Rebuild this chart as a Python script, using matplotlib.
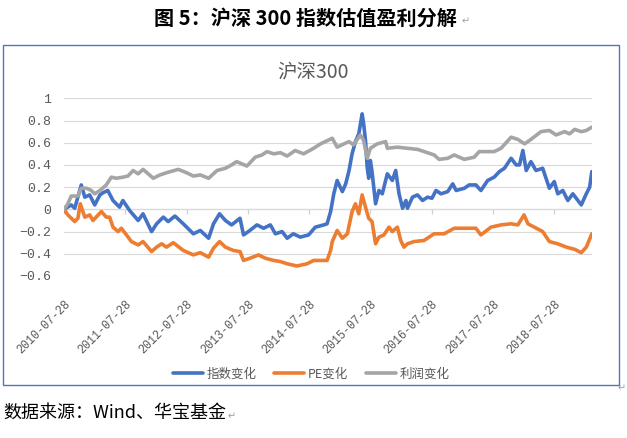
import matplotlib
matplotlib.use("Agg")
import matplotlib.pyplot as plt
import pandas as pd
from matplotlib.patches import Rectangle

# ---------------- data ----------------
idx_dates = ["2010-07-28", "2010-09-09", "2010-09-30", "2010-11-08", "2010-11-29", "2010-12-28",
             "2011-01-27", "2011-02-27", "2011-03-18", "2011-04-15", "2011-05-16", "2011-06-24",
             "2011-07-14", "2011-08-23", "2011-10-13", "2011-11-11", "2012-01-01", "2012-01-31",
             "2012-03-11", "2012-04-09", "2012-05-19", "2012-07-08", "2012-09-06", "2012-10-17",
             "2012-12-06", "2013-01-04", "2013-02-09", "2013-03-16", "2013-04-22", "2013-06-11",
             "2013-07-02", "2013-07-31", "2013-09-20", "2013-10-30", "2013-12-09", "2014-01-08",
             "2014-02-17", "2014-03-19", "2014-04-25", "2014-06-05", "2014-07-25", "2014-09-03",
             "2014-10-23", "2014-11-12", "2014-12-03", "2014-12-22", "2015-01-11", "2015-02-11",
             "2015-03-03", "2015-03-23", "2015-04-10", "2015-04-30", "2015-05-20", "2015-06-09",
             "2015-06-18", "2015-06-29", "2015-07-09", "2015-07-18", "2015-07-28", "2015-08-07",
             "2015-08-28", "2015-09-17", "2015-10-07", "2015-11-06", "2015-12-06", "2015-12-26",
             "2016-01-15", "2016-02-05", "2016-02-25", "2016-03-05", "2016-04-04", "2016-05-04",
             "2016-06-03", "2016-07-03", "2016-07-29", "2016-08-22", "2016-09-21", "2016-10-31",
             "2016-11-30", "2016-12-20", "2017-02-07", "2017-03-08", "2017-04-17", "2017-05-17",
             "2017-06-26", "2017-08-04", "2017-09-04", "2017-10-04", "2017-11-13", "2017-12-13",
             "2018-01-02", "2018-01-22", "2018-02-11", "2018-03-11", "2018-04-10", "2018-05-20",
             "2018-06-29", "2018-07-28", "2018-08-18", "2018-09-17", "2018-10-17", "2018-11-16",
             "2018-12-16", "2019-01-05", "2019-02-04", "2019-02-24", "2019-03-09"]
idx_vals = [0.00, 0.04, 0.01, 0.22, 0.11, 0.13,
            0.04, 0.13, 0.15, 0.17, 0.08, 0.02,
            0.08, -0.01, -0.10, -0.04, -0.20, -0.13,
            -0.07, -0.11, -0.06, -0.13, -0.22, -0.19,
            -0.26, -0.13, -0.04, -0.10, -0.14, -0.08,
            -0.23, -0.20, -0.14, -0.17, -0.14, -0.22,
            -0.20, -0.26, -0.22, -0.25, -0.23, -0.16,
            -0.14, -0.13, -0.02, 0.14, 0.26, 0.16,
            0.23, 0.35, 0.50, 0.61, 0.68, 0.86,
            0.77, 0.62, 0.38, 0.28, 0.44, 0.34,
            0.05, 0.17, 0.14, 0.32, 0.26, 0.35,
            0.14, 0.01, 0.08, 0.01, 0.11, 0.13,
            0.08, 0.11, 0.10, 0.17, 0.14, 0.16,
            0.23, 0.17, 0.19, 0.22, 0.22, 0.17,
            0.26, 0.29, 0.34, 0.37, 0.46, 0.40,
            0.40, 0.53, 0.35, 0.43, 0.35, 0.37,
            0.19, 0.25, 0.14, 0.17, 0.08, 0.14,
            0.08, 0.04, 0.14, 0.20, 0.34]

pe_dates = ["2010-07-28", "2010-08-20", "2010-09-30", "2010-10-19", "2010-11-02", "2010-11-29",
            "2010-12-28", "2011-01-17", "2011-02-17", "2011-03-08", "2011-04-06", "2011-04-26",
            "2011-05-16", "2011-06-15", "2011-07-05", "2011-08-04", "2011-09-03", "2011-10-13",
            "2011-11-11", "2012-01-01", "2012-01-31", "2012-03-01", "2012-03-30", "2012-05-09",
            "2012-07-08", "2012-09-06", "2012-10-17", "2012-12-06", "2013-01-04", "2013-02-09",
            "2013-03-16", "2013-05-02", "2013-06-11", "2013-07-02", "2013-08-10", "2013-09-30",
            "2013-11-09", "2013-12-29", "2014-02-07", "2014-03-19", "2014-05-16", "2014-07-15",
            "2014-08-24", "2014-11-12", "2014-12-03", "2014-12-13", "2015-01-11", "2015-02-11",
            "2015-03-13", "2015-04-10", "2015-04-30", "2015-05-20", "2015-06-09", "2015-06-29",
            "2015-07-18", "2015-08-07", "2015-08-28", "2015-09-17", "2015-10-17", "2015-11-16",
            "2015-12-06", "2016-01-05", "2016-01-25", "2016-02-13", "2016-03-05", "2016-04-13",
            "2016-06-12", "2016-08-11", "2016-10-10", "2016-12-09", "2017-02-28", "2017-04-17",
            "2017-05-17", "2017-07-16", "2017-09-14", "2017-11-13", "2017-12-23", "2018-01-29",
            "2018-02-21", "2018-03-31", "2018-05-20", "2018-06-29", "2018-08-18", "2018-10-08",
            "2018-11-27", "2019-01-05", "2019-02-04", "2019-03-09"]
pe_vals = [0.00, -0.05, -0.11, -0.08, 0.05, -0.07,
           -0.05, -0.10, -0.05, -0.02, -0.07, -0.07,
           -0.16, -0.20, -0.17, -0.23, -0.29, -0.32,
           -0.29, -0.38, -0.34, -0.31, -0.34, -0.30,
           -0.37, -0.41, -0.39, -0.43, -0.35, -0.29,
           -0.34, -0.37, -0.38, -0.46, -0.44, -0.41,
           -0.44, -0.46, -0.47, -0.49, -0.51, -0.49,
           -0.46, -0.46, -0.37, -0.29, -0.19, -0.26,
           -0.22, -0.02, 0.05, -0.04, 0.13, 0.02,
           -0.08, -0.11, -0.31, -0.25, -0.23, -0.16,
           -0.20, -0.16, -0.28, -0.34, -0.31, -0.29,
           -0.28, -0.22, -0.22, -0.17, -0.17, -0.17,
           -0.23, -0.16, -0.14, -0.13, -0.14, -0.05,
           -0.13, -0.16, -0.20, -0.29, -0.31, -0.34,
           -0.36, -0.39, -0.34, -0.22]

earn_dates = ["2010-07-28", "2010-08-20", "2010-09-09", "2010-10-19", "2010-11-08", "2010-12-09",
              "2011-01-07", "2011-01-27", "2011-02-27", "2011-04-06", "2011-05-06", "2011-06-05",
              "2011-07-14", "2011-08-13", "2011-09-13", "2011-10-13", "2011-11-11", "2011-12-12",
              "2012-01-11", "2012-02-20", "2012-03-30", "2012-06-08", "2012-07-28", "2012-09-06",
              "2012-10-17", "2012-12-06", "2013-01-25", "2013-03-16", "2013-04-22", "2013-05-22",
              "2013-07-22", "2013-09-10", "2013-10-20", "2013-11-19", "2013-12-29", "2014-02-07",
              "2014-03-19", "2014-05-06", "2014-06-25", "2014-08-24", "2014-10-04", "2014-12-13",
              "2015-01-11", "2015-02-21", "2015-03-23", "2015-04-19", "2015-05-29", "2015-06-18",
              "2015-07-09", "2015-07-28", "2015-09-07", "2015-10-27", "2015-11-06", "2016-01-05",
              "2016-03-05", "2016-05-04", "2016-07-03", "2016-08-11", "2016-09-10", "2016-10-31",
              "2016-12-09", "2017-02-07", "2017-04-07", "2017-05-07", "2017-06-26", "2017-08-04",
              "2017-09-14", "2017-11-13", "2017-12-23", "2018-02-01", "2018-03-11", "2018-05-10",
              "2018-06-29", "2018-08-08", "2018-09-28", "2018-10-27", "2018-11-27", "2019-01-05",
              "2019-02-04", "2019-03-09"]
earn_vals = [0.00, 0.05, 0.12, 0.12, 0.19, 0.19,
             0.17, 0.14, 0.17, 0.22, 0.29, 0.28,
             0.29, 0.30, 0.35, 0.32, 0.36, 0.32,
             0.28, 0.31, 0.33, 0.36, 0.33, 0.30,
             0.31, 0.28, 0.35, 0.37, 0.40, 0.43,
             0.39, 0.47, 0.49, 0.52, 0.50, 0.51,
             0.48, 0.53, 0.50, 0.55, 0.59, 0.64,
             0.56, 0.59, 0.61, 0.58, 0.67, 0.62,
             0.46, 0.55, 0.59, 0.61, 0.55, 0.56,
             0.55, 0.54, 0.51, 0.49, 0.45, 0.46,
             0.49, 0.45, 0.47, 0.52, 0.52, 0.52,
             0.55, 0.65, 0.63, 0.59, 0.63, 0.70,
             0.71, 0.67, 0.70, 0.68, 0.72, 0.70,
             0.71, 0.74]

series_names = ["指数变化", "PE变化", "利润变化"]
series_colors = ["#4472C4", "#ED7D31", "#A5A5A5"]
tick_dates = ["2010-07-28", "2011-07-28", "2012-07-28", "2013-07-28", "2014-07-28",
              "2015-07-28", "2016-07-28", "2017-07-28", "2018-07-28"]
x_end = "2019-03-10"
y_ticks = [-0.6, -0.4, -0.2, 0, 0.2, 0.4, 0.6, 0.8, 1]
y_labels = ["-0.6", "-0.4", "-0.2", "0", "0.2", "0.4", "0.6", "0.8", "1"]

# ---------------- figure ----------------
W, H = 627, 438
fig = plt.figure(figsize=(W / 100, H / 100), dpi=100)
CJK = ["Noto Sans CJK SC", "DejaVu Sans"]
GRAY = "#595959"
MARK = "#A0A0A0"

def fx(px):
    return px / W

def fy(py):
    return 1 - py / H

# outer chart frame
fig.patches.append(Rectangle((fx(3), fy(385)), fx(619) - fx(3), fy(45) - fy(385),
                             transform=fig.transFigure, fill=False,
                             edgecolor="#4A78C2", lw=1.0))

ax = fig.add_axes([fx(64), fy(276), fx(592) - fx(64), fy(98.3) - fy(276)])

series = [(idx_dates, idx_vals), (pe_dates, pe_vals), (earn_dates, earn_vals)]
handles = []
for (d, v), name, col in zip(series, series_names, series_colors):
    ln, = ax.plot(pd.to_datetime(d), v, color=col, lw=2.6, label=name,
                  solid_joinstyle="round", solid_capstyle="round")
    handles.append(ln)

ax.set_ylim(-0.6, 1.0)
ax.set_xlim(pd.Timestamp(tick_dates[0]), pd.Timestamp(x_end))
ax.set_yticks(y_ticks)
ax.set_yticklabels([s.replace("-", "\u2212") for s in y_labels],
                   family="Liberation Mono", fontsize=9.5, color=GRAY)
ax.yaxis.grid(True, color="#D9D9D9", lw=0.8)
ax.set_axisbelow(True)
ax.tick_params(axis="y", length=0, pad=9)
for s in ax.spines.values():
    s.set_visible(False)

tds = pd.to_datetime(tick_dates)
ax.set_xticks(tds)
ax.set_xticklabels(tick_dates, rotation=45, ha="right", va="top",
                   rotation_mode="anchor", family="Liberation Mono",
                   fontsize=8.5, color=GRAY)
ax.tick_params(axis="x", length=0, pad=16)

# horizontal category axis at zero with tick marks
ax.axhline(0, color="#D0D0D0", lw=0.9, zorder=0.5)
ax.vlines(tds, -0.045, 0, color="#D0D0D0", lw=0.9, zorder=0.5)

# chart title
fig.text(fx(313), fy(72), "沪深300", ha="center", va="center",
         fontsize=14, color=GRAY, family=CJK)

# legend
fig.legend(handles=handles, loc="center", bbox_to_anchor=(fx(311), fy(374)),
           ncol=3, frameon=False, handlelength=2.4, handletextpad=0.3,
           columnspacing=1.4, prop={"family": CJK, "size": 9},
           labelcolor=GRAY)

# document title and caption (with paragraph marks)
fig.text(fx(305), fy(18), "图 5：沪深 300 指数估值盈利分解", ha="center", va="center",
         fontsize=14.5, fontweight="bold", color="black", family=CJK)
fig.text(fx(466), fy(21), "\u21b5", ha="center", va="center", fontsize=7,
         color=MARK, family="DejaVu Sans")
fig.text(fx(3), fy(413), "数据来源：Wind、华宝基金", ha="left", va="center",
         fontsize=13, color="black", family=CJK)
fig.text(fx(232), fy(416), "\u21b5", ha="center", va="center", fontsize=7,
         color=MARK, family="DejaVu Sans")
fig.text(fx(622), fy(388), "\u21b5", ha="center", va="center", fontsize=7,
         color=MARK, family="DejaVu Sans")

fig.savefig("out.png", dpi=100)
